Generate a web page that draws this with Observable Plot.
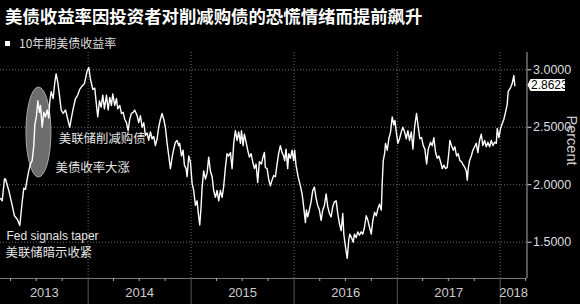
<!DOCTYPE html>
<html><head><meta charset="utf-8">
<script src="https://cdn.jsdelivr.net/npm/d3@7"></script>
<script src="https://cdn.jsdelivr.net/npm/@observablehq/plot@0.6"></script>
<style>
html,body{margin:0;padding:0;background:#000;}
#wrap{position:relative;width:580px;height:304px;overflow:hidden;background:#000;font-family:"Noto Sans CJK SC",sans-serif;}
#title{position:absolute;left:5px;top:7px;font-size:17.4px;line-height:1;font-weight:700;color:#fff;white-space:nowrap;}
#legsw{position:absolute;left:5px;top:41px;width:5px;height:5px;background:#fff;}
#legtxt{position:absolute;left:19px;top:37px;font-size:12px;line-height:1;color:#ddd;white-space:nowrap;}
#chart{position:absolute;left:0;top:52px;}
</style></head>
<body>
<div id="wrap">
  <div id="title"></div>
  <div id="legsw"></div>
  <div id="legtxt"></div>
  <div id="chart"></div>
</div>
<script>
const titleText = "美债收益率因投资者对削减购债的恐慌情绪而提前飙升";
const seriesName = "10年期美债收益率";
const axisLabel = "Percent";

// decimal years
const dates = [
2013.149,2013.165,2013.187,2013.197,2013.229,2013.262,2013.284,2013.311,2013.336,2013.359,2013.375,2013.391,2013.408,2013.423,2013.440,2013.456,2013.472,2013.482,2013.498,2013.511,2013.527,2013.537,2013.553,2013.569,2013.585,2013.602,2013.617,2013.627,2013.641,2013.660,2013.676,2013.689,2013.705,2013.721,2013.738,2013.757,2013.780,2013.802,2013.821,2013.835,2013.854,2013.877,2013.899,2013.918,2013.942,2013.964,2013.990,
2014.006,2014.022,2014.045,2014.064,2014.081,2014.093,2014.110,2014.126,2014.142,2014.158,2014.178,2014.194,2014.210,2014.226,2014.239,2014.258,2014.275,2014.287,2014.307,2014.323,2014.340,2014.355,2014.372,2014.388,2014.404,2014.420,2014.437,2014.452,2014.476,2014.491,2014.508,2014.524,2014.540,2014.556,2014.573,2014.588,2014.605,2014.621,2014.637,2014.653,2014.670,2014.685,2014.702,2014.718,2014.734,2014.750,2014.767,2014.783,2014.799,2014.816,2014.831,2014.848,2014.864,2014.880,2014.889,2014.906,2014.922,2014.935,2014.951,2014.961,2014.977,2014.993,
2015.010,2015.025,2015.042,2015.058,2015.074,2015.084,2015.097,2015.107,2015.122,2015.139,2015.155,2015.171,2015.187,2015.204,2015.219,2015.236,2015.252,2015.268,2015.284,2015.301,2015.316,2015.333,2015.349,2015.365,2015.382,2015.398,2015.414,2015.430,2015.447,2015.462,2015.479,2015.489,2015.505,2015.517,2015.534,2015.550,2015.566,2015.583,2015.598,2015.615,2015.631,2015.647,2015.663,2015.683,2015.695,2015.712,2015.721,2015.738,2015.753,2015.770,2015.786,2015.802,2015.819,2015.835,2015.850,2015.867,2015.883,2015.899,2015.909,2015.922,2015.938,2015.948,2015.964,2015.981,2015.996,
2016.006,2016.019,2016.039,2016.061,2016.078,2016.093,2016.110,2016.119,2016.132,2016.148,2016.165,2016.181,2016.197,2016.214,2016.229,2016.246,2016.262,2016.278,2016.294,2016.311,2016.326,2016.343,2016.359,2016.375,2016.391,2016.408,2016.423,2016.440,2016.456,2016.472,2016.482,2016.498,2016.515,2016.530,2016.540,2016.556,2016.573,2016.585,2016.602,2016.617,2016.634,2016.650,2016.666,2016.682,2016.699,2016.715,2016.731,2016.748,2016.763,2016.780,2016.796,2016.812,2016.828,2016.845,2016.854,2016.864,2016.877,2016.886,2016.903,2016.918,2016.935,2016.951,2016.967,2016.977,2016.990,
2017.006,2017.022,2017.039,2017.054,2017.071,2017.087,2017.103,2017.119,2017.136,2017.152,2017.168,2017.187,2017.204,2017.219,2017.236,2017.252,2017.268,2017.285,2017.301,2017.323,2017.340,2017.355,2017.372,2017.388,2017.404,2017.420,2017.437,2017.452,2017.469,2017.485,2017.501,2017.511,2017.527,2017.544,2017.559,2017.576,2017.592,2017.608,2017.624,2017.641,2017.656,2017.670,2017.680,2017.689,2017.702,2017.719,2017.734,2017.751,2017.767,2017.783,2017.799,2017.816,2017.831,2017.848,2017.864,2017.880,2017.897,2017.913,2017.929,2017.945,2017.962,2017.971,2017.987,
2018.003,2018.019,2018.035,2018.051,2018.068,2018.077,2018.090,2018.103,2018.116,2018.132,2018.142
];
const yields = [
1.88,1.86,2.05,2.05,1.95,1.82,1.73,1.70,1.645,1.85,1.97,1.96,2.05,2.12,2.18,2.21,2.34,2.52,2.60,2.73,2.63,2.69,2.50,2.63,2.59,2.65,2.58,2.72,2.81,2.75,2.89,2.965,2.89,2.78,2.65,2.62,2.65,2.57,2.50,2.57,2.66,2.75,2.78,2.83,2.86,2.88,2.99,
3.02,2.92,2.83,2.84,2.69,2.59,2.73,2.675,2.78,2.66,2.78,2.65,2.76,2.69,2.79,2.69,2.75,2.66,2.69,2.62,2.63,2.57,2.54,2.47,2.57,2.62,2.63,2.65,2.60,2.54,2.60,2.50,2.54,2.43,2.45,2.385,2.46,2.40,2.42,2.34,2.40,2.50,2.57,2.62,2.57,2.50,2.36,2.25,2.14,2.24,2.31,2.37,2.385,2.34,2.36,2.25,2.30,2.17,2.14,2.07,2.25,2.20,
2.01,1.95,1.82,1.86,1.72,1.65,1.81,1.98,2.12,2.05,2.10,2.24,2.12,2.07,1.95,1.89,1.95,1.86,1.95,1.89,1.98,2.15,2.27,2.25,2.28,2.14,2.36,2.47,2.385,2.46,2.36,2.47,2.34,2.44,2.37,2.30,2.24,2.27,2.20,2.14,2.18,2.02,2.20,2.18,2.23,2.28,2.15,2.14,2.05,1.99,2.04,2.08,2.07,2.18,2.27,2.34,2.28,2.25,2.21,2.31,2.14,2.27,2.23,2.30,2.21,
2.30,2.17,2.07,1.99,1.92,1.81,1.67,1.78,1.72,1.78,1.85,1.95,1.98,1.88,1.82,1.78,1.69,1.78,1.82,1.92,1.81,1.75,1.72,1.81,1.85,1.86,1.75,1.66,1.60,1.75,1.57,1.46,1.36,1.52,1.57,1.54,1.50,1.57,1.54,1.59,1.56,1.59,1.57,1.63,1.73,1.69,1.63,1.57,1.69,1.76,1.73,1.79,1.83,1.78,2.01,2.21,2.27,2.36,2.30,2.40,2.46,2.59,2.52,2.56,2.46,
2.36,2.40,2.46,2.50,2.46,2.40,2.47,2.385,2.46,2.31,2.50,2.62,2.50,2.40,2.41,2.34,2.31,2.18,2.31,2.37,2.34,2.41,2.28,2.23,2.25,2.20,2.14,2.17,2.14,2.15,2.28,2.385,2.34,2.30,2.33,2.25,2.27,2.21,2.20,2.17,2.15,2.12,2.04,2.14,2.21,2.25,2.30,2.33,2.36,2.28,2.385,2.44,2.34,2.385,2.33,2.37,2.33,2.385,2.34,2.37,2.36,2.49,2.41,
2.49,2.53,2.57,2.63,2.70,2.81,2.83,2.85,2.88,2.95,2.8623
];
const yTicks = [1.5, 2.0, 2.5, 3.0];
const yearLabels = ["2013","2014","2015","2016","2017","2018"];
const lastValue = 2.8623;
const cnNotes = [
  {text: "美联储削减购债", date: 2013.715, value: 2.40},
  {text: "美债收率大涨", date: 2013.683, value: 2.147},
  {text: "美联储暗示收紧", date: 2013.197, value: 1.404}
];
const enNotes = [
  {text: "Fed signals taper", date: 2013.207, value: 1.550}
];
const highlight = {date: 2013.522, value: 2.454};

function decYear(d) {
  const y = Math.floor(d);
  const s = Date.UTC(y, 0, 1), e = Date.UTC(y + 1, 0, 1);
  return new Date(s + (d - y) * (e - s));
}

document.getElementById("title").textContent = titleText;
document.getElementById("legtxt").textContent = seriesName;

const data = dates.map((d, i) => ({date: decYear(d), value: yields[i]}));
const xDomain = [decYear(2013.1485), decYear(2018.26)];
const yDomain = [1.184, 3.1505];
const yearStarts = [2014, 2015, 2016, 2017, 2018].map(y => new Date(Date.UTC(y, 0, 1)));
const quarterStarts = [];
for (let y = 2013; y <= 2018; y++) for (const m of [3, 6, 9]) {
  const d = new Date(Date.UTC(y, m, 1));
  if (d > xDomain[0] && d < xDomain[1]) quarterStarts.push(d);
}
const yearMid = yearLabels.map(s => {
  const y = +s;
  const a = Math.max(Date.UTC(y, 0, 1), +xDomain[0]);
  const b = Math.min(Date.UTC(y + 1, 0, 1), +xDomain[1]);
  return {label: s, date: new Date((a + b) / 2)};
});

const narrow = '"Liberation Sans Narrow","Liberation Sans",sans-serif';
const cjk = '"Noto Sans CJK SC",sans-serif';

const chart = Plot.plot({
  width: 580, height: 252,
  marginLeft: 0, marginRight: 53.5, marginTop: 0, marginBottom: 26,
  x: {type: "utc", domain: xDomain, axis: null},
  y: {domain: yDomain, axis: null},
  style: {background: "transparent", color: "#ccc", fontFamily: narrow, overflow: "visible"},
  marks: [
    Plot.ruleY(yTicks, {stroke: "#6a6a6a", strokeDasharray: "1,2"}),
    Plot.ruleX(yearStarts, {stroke: "#6a6a6a", strokeDasharray: "1,2"}),
    Plot.ruleY([yDomain[0]], {stroke: "#777"}),
    Plot.ruleX([xDomain[1]], {stroke: "#aaa"}),
    Plot.axisX({ticks: yearStarts, tickSize: 26, tickFormat: () => "", stroke: "#555", strokeOpacity: 1}),
    Plot.axisX({ticks: quarterStarts, tickSize: 3, tickFormat: () => "", stroke: "#aaa", strokeOpacity: 1}),
    Plot.axisY({anchor: "right", ticks: yTicks, tickFormat: d3.format(".4f"), tickSize: 4, tickPadding: 2,
      fontSize: 12.5, label: null, color: "#ddd"}),
    Plot.text(yearMid, {x: "date", text: "label", frameAnchor: "bottom", dy: 18.7, fontSize: 13, fill: "#ccc"}),
    Plot.text([axisLabel], {frameAnchor: "right", dx: 45, rotate: 90, fontSize: 14.5, fill: "#ccc"}),
    Plot.line(data, {x: "date", y: "value", stroke: "#fff", strokeWidth: 1.4}),
    Plot.text(cnNotes, {x: d => decYear(d.date), y: "value", text: "text", textAnchor: "start",
      fill: "#e6e6e6", fontSize: 12.4, fontFamily: cjk}),
    Plot.text(enNotes, {x: d => decYear(d.date), y: "value", text: "text", textAnchor: "start",
      fill: "#e6e6e6", fontSize: 12})
  ]
});
document.getElementById("chart").appendChild(chart);

const xs = chart.scale("x"), ys = chart.scale("y");
const svg = d3.select(chart);
svg.insert("ellipse", 'g[aria-label="line"]')
  .attr("cx", xs.apply(decYear(highlight.date)))
  .attr("cy", ys.apply(highlight.value))
  .attr("rx", 12.5).attr("ry", 45)
  .attr("fill", "#767676").attr("fill-opacity", 0.92)
  .attr("stroke", "#a8a8a8").attr("stroke-width", 1);

const x0 = xs.range[1];
const yl = ys.apply(lastValue);
const g = svg.append("g");
g.append("path")
  .attr("d", `M${x0 + 1},${yl} L${x0 + 4},${yl - 6} L${x0 + 38.5},${yl - 6} L${x0 + 38.5},${yl + 6} L${x0 + 4},${yl + 6} Z`)
  .attr("fill", "#fff");
g.append("text")
  .attr("x", x0 + 4.5).attr("y", yl).attr("dy", "0.35em")
  .attr("text-anchor", "start")
  .attr("fill", "#000").attr("font-size", 12).attr("font-family", narrow)
  .text(d3.format(".4f")(lastValue));
</script>
</body></html>
